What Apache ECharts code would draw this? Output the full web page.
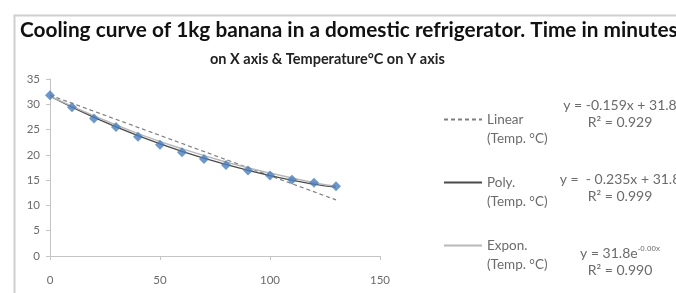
<!DOCTYPE html>
<html>
<head>
<meta charset="utf-8">
<script src="https://cdn.jsdelivr.net/npm/echarts@6/dist/echarts.min.js"></script>
<style>
  html, body { margin: 0; padding: 0; background: #fff; }
  #main { width: 676px; height: 293px; }
</style>
</head>
<body>
<div id="main"></div>
<script>
  // measured points
  const timeMin = [0, 10, 20, 30, 40, 50, 60, 70, 80, 90, 100, 110, 120, 130];
  const tempC = [31.8, 29.4, 27.2, 25.5, 23.6, 22.0, 20.5, 19.2, 18.0, 16.9, 15.9, 15.1, 14.5, 13.8];

  // trendlines
  const linearX = [0, 130];
  const linearY = [31.8, 11.1];
  const polyX = [0, 20, 40, 60, 80, 100, 120, 130];
  const polyY = [31.6, 27.4, 23.8, 20.7, 18.1, 15.9, 14.2, 13.6];
  const exponX = [0, 20, 40, 60, 80, 100, 120, 130];
  const exponY = [31.6, 27.7, 24.2, 21.2, 18.6, 16.4, 14.5, 13.8];

  const xTicks = [0, 50, 100, 150];
  const yTicks = [0, 5, 10, 15, 20, 25, 30, 35];

  const equations = [
    ['y = -0.159x + 31.8', 'R² = 0.929'],
    ['y =  - 0.235x + 31.8', 'R² = 0.999'],
    ['y = 31.8e{sup|-0.00x}', 'R² = 0.990']
  ];

  const pairs = (xs, ys) => xs.map((x, i) => [x, ys[i]]);

  const font = 'Lato, "Open Sans", sans-serif';
  const myChart = echarts.init(document.getElementById('main'));

  let eqGraphics = [];
  const eqY = [114, 188, 262];
  equations.forEach((eq, i) => {
    eqGraphics.push({
      type: 'text', x: 620, y: eqY[i],
      style: {
        text: eq[0] + '\n' + eq[1], fill: '#6b6b6b', font: '14px ' + font,
        align: 'center', verticalAlign: 'middle', lineHeight: 17,
        rich: { sup: { fontSize: 8, verticalAlign: 'top', padding: [0, 0, 8, 0] } }
      }
    });
  });

  let option = {
    animation: false,
    title: [
      {
        text: 'Cooling curve of 1kg banana in a domestic refrigerator. Time in minutes',
        left: 20, top: 20, padding: 0,
        textStyle: { fontFamily: font, fontSize: 20.8, fontWeight: 'bold', color: '#111' }
      },
      {
        text: 'on X axis & Temperature°C on Y axis',
        left: 210, top: 52, padding: 0,
        textStyle: { fontFamily: font, fontSize: 14.5, fontWeight: 'bold', color: '#222' }
      }
    ],
    grid: { left: 50, top: 79, right: 296, bottom: 37 },
    xAxis: {
      type: 'value', min: 0, max: 150, interval: 50,
      axisLine: { lineStyle: { color: '#c4c4c4' } },
      axisTick: { show: true, length: 4, lineStyle: { color: '#c4c4c4' } },
      axisLabel: { color: '#6b6b6b', fontFamily: font, fontSize: 11.5, margin: 18,
        formatter: v => xTicks.includes(v) ? String(v) : '' },
      splitLine: { show: false }
    },
    yAxis: {
      type: 'value', min: 0, max: 35, interval: 5,
      axisLine: { show: true, lineStyle: { color: '#c4c4c4' } },
      axisTick: { show: true, length: 4, lineStyle: { color: '#c4c4c4' } },
      axisLabel: { color: '#6b6b6b', fontFamily: font, fontSize: 11.5, margin: 10,
        formatter: v => yTicks.includes(v) ? String(v) : '' },
      splitLine: { show: false }
    },
    legend: {
      orient: 'vertical', left: 443, top: 91, padding: 0,
      itemWidth: 38, itemHeight: 10, itemGap: 6,
      data: ['Linear', 'Poly.', 'Expon.'],
      itemStyle: { opacity: 0 },
      // blank first line keeps the sample line level with the name
      formatter: n => ' \n' + n + '\n(Temp. °C)',
      textStyle: { color: '#6b6b6b', fontFamily: font, fontSize: 13.5, lineHeight: 19 }
    },
    series: [
      {
        name: 'Linear', type: 'line', data: pairs(linearX, linearY),
        symbol: 'none', lineStyle: { color: '#7f7f7f', width: 1.2, type: [4, 3] },
        itemStyle: { color: '#7f7f7f' }, z: 2
      },
      {
        name: 'Poly.', type: 'line', data: pairs(polyX, polyY), smooth: true,
        symbol: 'none', lineStyle: { color: '#4a4a4a', width: 1.3 },
        itemStyle: { color: '#4a4a4a' }, z: 2
      },
      {
        name: 'Expon.', type: 'line', data: pairs(exponX, exponY), smooth: true,
        symbol: 'none', lineStyle: { color: '#b8b8b8', width: 1.5 },
        itemStyle: { color: '#b8b8b8' }, z: 2
      },
      {
        name: 'Temp. °C', type: 'scatter', data: pairs(timeMin, tempC),
        symbol: 'diamond', symbolSize: 10,
        itemStyle: { color: '#4a7ebb' }, z: 3
      }
    ],
    graphic: [
      {
        type: 'rect', left: 12, top: 13, silent: true,
        shape: { width: 700, height: 300 },
        style: { fill: 'none', stroke: '#cfcfcf', lineWidth: 2 }
      }
    ].concat(eqGraphics)
  };

  myChart.setOption(option);
</script>
</body>
</html>
